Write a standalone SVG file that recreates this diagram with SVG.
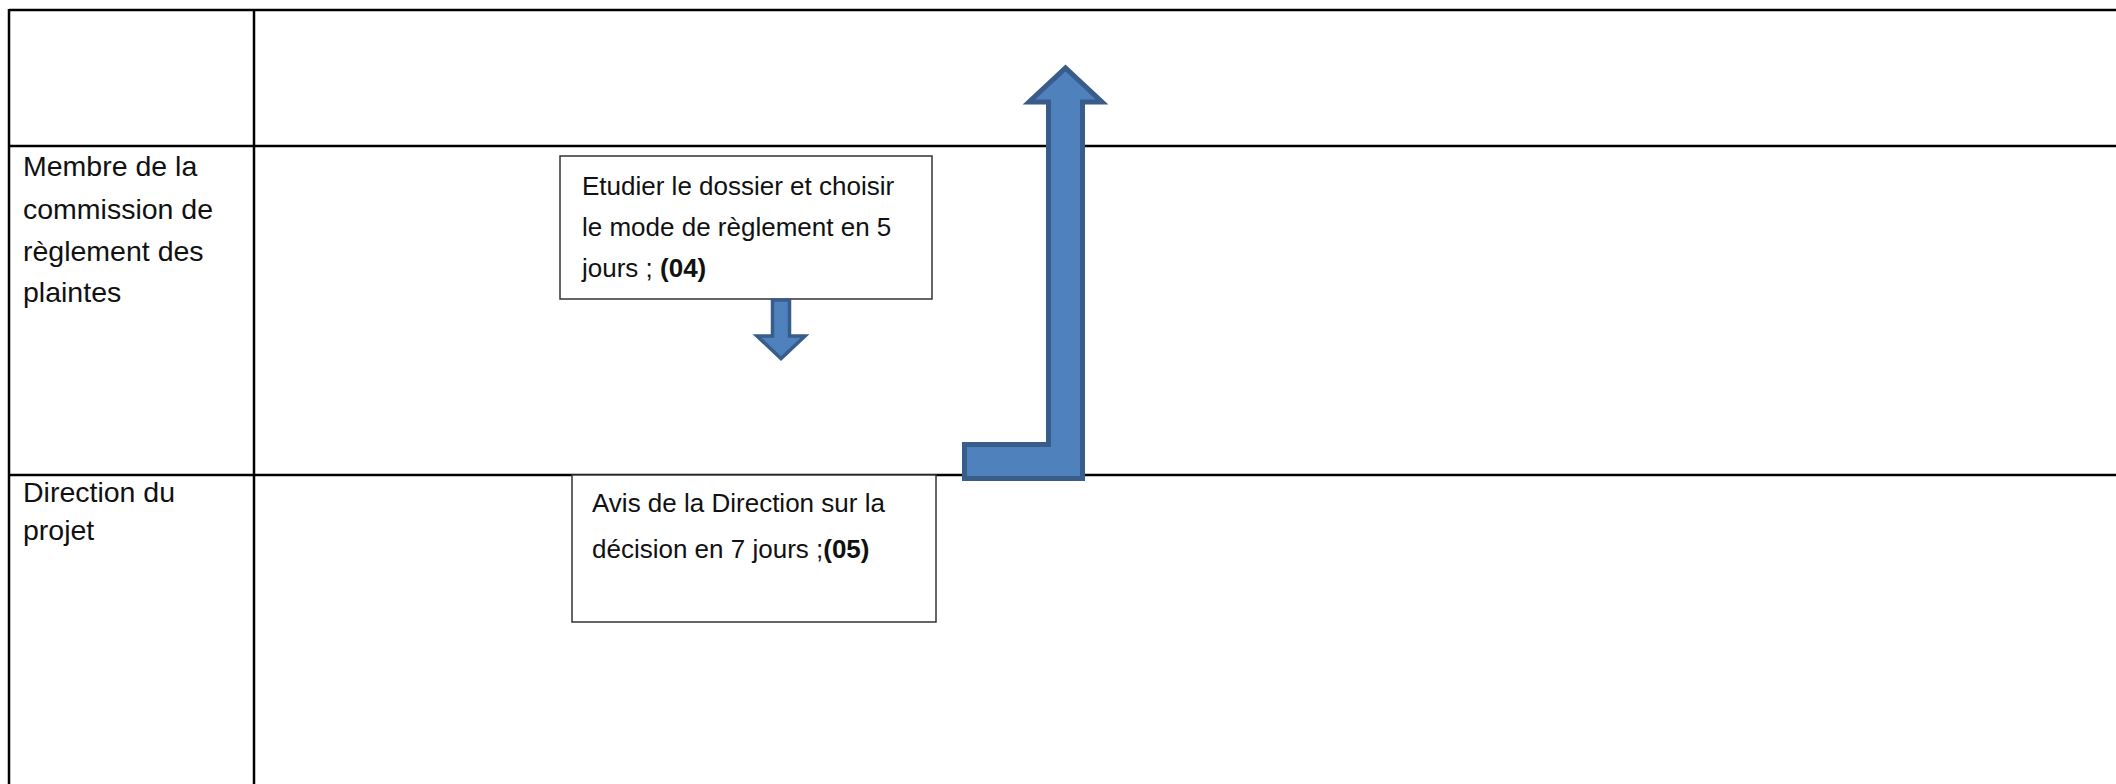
<svg xmlns="http://www.w3.org/2000/svg" width="2116" height="784" viewBox="0 0 2116 784">
  <style>
    .grid { stroke: #000; stroke-width: 2.5; fill: none; }
    .box { fill: #fff; stroke: #333; stroke-width: 1.5; }
    .t { font-family: "Liberation Sans", Arial, sans-serif; font-size: 26px; fill: #111; }
    .lbl { font-size: 28.5px; }
    .b { font-weight: bold; }
    .arrow { fill: #4F81BD; stroke: #385D8A; stroke-linejoin: miter; }
  </style>
  <rect width="2116" height="784" fill="#fff"/>
  <g id="table">
    <line class="grid" x1="9" y1="10" x2="2116" y2="10"/>
    <line class="grid" x1="9" y1="146" x2="2116" y2="146"/>
    <line class="grid" x1="9" y1="475" x2="2116" y2="475"/>
    <line class="grid" x1="9" y1="9" x2="9" y2="784"/>
    <line class="grid" x1="254" y1="9" x2="254" y2="784"/>
  </g>
  <g id="lane-membre">
    <text class="t lbl" x="23" y="176">Membre de la</text>
    <text class="t lbl" x="23" y="219">commission de</text>
    <text class="t lbl" x="23" y="261">règlement des</text>
    <text class="t lbl" x="23" y="302">plaintes</text>
  </g>
  <g id="lane-direction">
    <text class="t lbl" x="23" y="502">Direction du</text>
    <text class="t lbl" x="23" y="540">projet</text>
  </g>
  <g id="node-04">
    <rect class="box" x="560" y="156" width="372" height="143"/>
    <text class="t" x="582" y="195">Etudier le dossier et choisir</text>
    <text class="t" x="582" y="236">le mode de règlement en 5</text>
    <text class="t" x="582" y="277">jours ; <tspan class="b">(04)</tspan></text>
  </g>
  <g id="node-05">
    <rect class="box" x="572" y="475" width="364" height="147"/>
    <text class="t" x="592" y="512">Avis de la Direction sur la</text>
    <text class="t" x="592" y="558">décision en 7 jours ;<tspan class="b">(05)</tspan></text>
  </g>
  <g id="connectors">
    <path class="arrow" stroke-width="3.5" d="M772.5 300 L789.5 300 L789.5 336 L805 336 L781 358.5 L757 336 L772.5 336 Z"/>
    <path class="arrow" stroke-width="5" d="M964.5 444.5 L1048.5 444.5 L1048.5 102 L1029 102 L1065.5 68 L1102 102 L1082.5 102 L1082.5 478.5 L964.5 478.5 Z"/>
  </g>
</svg>
